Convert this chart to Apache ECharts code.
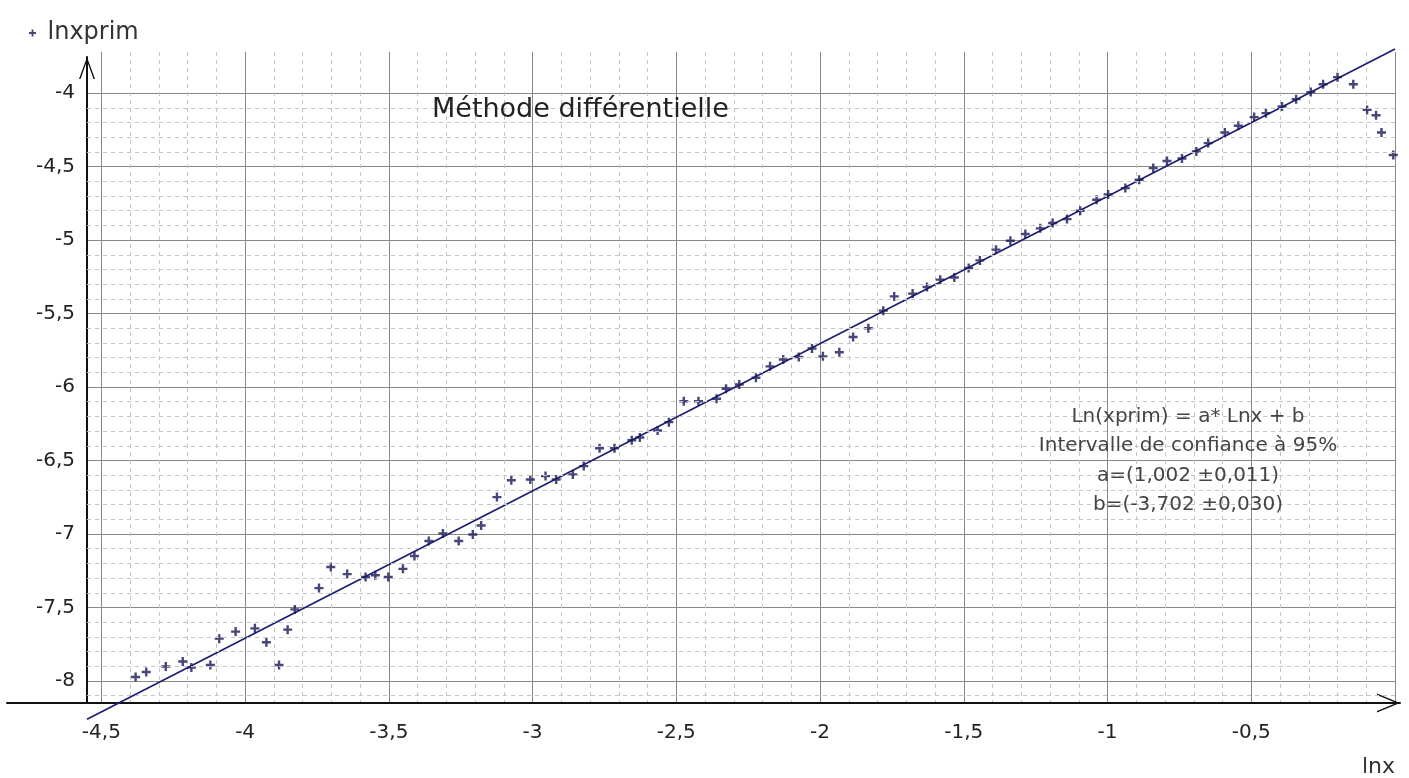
<!DOCTYPE html>
<html>
<head>
<meta charset="utf-8">
<script src="https://cdn.jsdelivr.net/npm/echarts@6/dist/echarts.min.js"></script>
<style>
  html, body { margin: 0; padding: 0; background: #fff; }
  #chart { width: 1409px; height: 778px; }
</style>
</head>
<body>
<div id="chart"></div>
<script>
// ---- data ----
const lnx = [
  -4.381, -4.344, -4.276, -4.217, -4.187, -4.121, -4.090, -4.033, -3.966, -3.926,
  -3.882, -3.852, -3.827, -3.743, -3.702, -3.645, -3.581, -3.547, -3.502, -3.451,
  -3.411, -3.361, -3.312, -3.257, -3.208, -3.179, -3.124, -3.074, -3.008, -2.955,
  -2.918, -2.860, -2.822, -2.767, -2.715, -2.655, -2.627, -2.565, -2.526, -2.474,
  -2.423, -2.360, -2.327, -2.281, -2.223, -2.174, -2.128, -2.074, -2.028, -1.990,
  -1.933, -1.885, -1.832, -1.780, -1.742, -1.678, -1.628, -1.582, -1.533, -1.483,
  -1.444, -1.388, -1.338, -1.286, -1.234, -1.191, -1.141, -1.095, -1.038, -0.998,
  -0.938, -0.890, -0.841, -0.793, -0.741, -0.691, -0.650, -0.592, -0.545, -0.490,
  -0.449, -0.393, -0.344, -0.293, -0.250, -0.200, -0.145, -0.097, -0.066, -0.047, -0.006
];
const lnxprim = [
  -7.973, -7.939, -7.902, -7.868, -7.909, -7.891, -7.712, -7.664, -7.642, -7.737,
  -7.891, -7.651, -7.513, -7.368, -7.225, -7.273, -7.293, -7.281, -7.293, -7.237,
  -7.150, -7.048, -6.996, -7.048, -7.003, -6.942, -6.749, -6.634, -6.629, -6.606,
  -6.629, -6.595, -6.538, -6.416, -6.416, -6.362, -6.343, -6.296, -6.239, -6.097,
  -6.097, -6.080, -6.012, -5.983, -5.937, -5.859, -5.813, -5.795, -5.738, -5.791,
  -5.763, -5.659, -5.600, -5.480, -5.383, -5.364, -5.319, -5.269, -5.254, -5.190,
  -5.138, -5.065, -5.004, -4.959, -4.920, -4.884, -4.857, -4.800, -4.725, -4.689,
  -4.646, -4.589, -4.510, -4.462, -4.445, -4.397, -4.340, -4.268, -4.222, -4.163,
  -4.136, -4.091, -4.041, -3.993, -3.939, -3.891, -3.939, -4.114, -4.150, -4.268, -4.421
];
// regression line end points (Ln(xprim) = a*Lnx + b), read at the plot edges
const fitLnx = [-4.55, 0];
const fitLnxprim = [-8.26, -3.70];
// minor horizontal grid values
const minorY = [
  -8.1, -7.9, -7.8, -7.7, -7.6, -7.4, -7.3, -7.2, -7.1, -6.9, -6.8, -6.7, -6.6,
  -6.4, -6.3, -6.2, -6.1, -5.9, -5.8, -5.7, -5.6, -5.4, -5.3, -5.2, -5.1,
  -4.9, -4.8, -4.7, -4.6, -4.4, -4.3, -4.2, -4.1
];
const xRange = [-4.55, 0];
const yRange = [-8.15, -3.72];
const seriesName = 'lnxprim';
const xName = 'lnx';
const titleText = 'Méthode différentielle';
const eqLines = [
  'Ln(xprim) = a* Lnx + b',
  'Intervalle de confiance à 95%',
  'a=(1,002 ±0,011)',
  'b=(-3,702 ±0,030)'
];

// ---- chart ----
const FONT = 'DejaVu Sans';
const plusPath = 'path://M3.3,0H5.7V3.3H9V5.7H5.7V9H3.3V5.7H0V3.3H3.3Z';
const arrowY = 'path://M0,22L8,0L16,22L14.5,22L8,3.8L1.5,22Z';
const arrowX = 'path://M0,23L9.5,0L19,23L17.5,23L9.5,3.8L1.5,23Z';
const fmt = v => String(v).replace('.', ',');

const chart = echarts.init(document.getElementById('chart'));
chart.setOption({
  animation: false,
  backgroundColor: '#ffffff',
  textStyle: { fontFamily: FONT },
  legend: {
    data: [{ name: seriesName, icon: plusPath }],
    left: 24, top: 16,
    itemWidth: 20, itemHeight: 7,
    textStyle: { fontSize: 24, color: '#333', fontFamily: FONT }
  },
  grid: [
    { left: 87, right: 14, top: 52, bottom: 75 },
    { left: 7, right: 9, top: 52, bottom: 75 },
    { left: 87, right: 14, top: 57, bottom: 75 }
  ],
  xAxis: [
    {
      gridIndex: 0, type: 'value', min: xRange[0], max: xRange[1],
      minInterval: 0.5, maxInterval: 0.5, splitNumber: 9,
      axisLine: { show: false, onZero: false },
      axisTick: { show: false },
      axisLabel: { showMinLabel: false, showMaxLabel: false, formatter: fmt,
                   fontSize: 20, color: '#222', margin: 20, fontFamily: FONT },
      splitLine: { show: true, showMinLine: false, lineStyle: { color: '#888888', width: 1 } },
      minorTick: { show: false, splitNumber: 5 },
      minorSplitLine: { show: true, lineStyle: { color: '#c4c4c4', width: 1, type: [4, 4] } }
    },
    {
      gridIndex: 1, type: 'value', min: 0, max: 1,
      axisLine: { show: true, onZero: false, lineStyle: { color: '#111', width: 2 },
                  symbol: ['none', arrowX], symbolSize: [19, 23], symbolOffset: [0, -11.5] },
      axisTick: { show: false }, axisLabel: { show: false }, splitLine: { show: false }
    },
    {
      gridIndex: 2, type: 'value', min: 0, max: 1, show: false
    }
  ],
  yAxis: [
    {
      gridIndex: 0, type: 'value', min: yRange[0], max: yRange[1],
      minInterval: 0.5, maxInterval: 0.5, splitNumber: 9,
      axisLine: { show: false, onZero: false },
      axisTick: { show: false },
      axisLabel: { showMinLabel: false, showMaxLabel: false, formatter: fmt,
                   fontSize: 20, color: '#222', margin: 12, padding: [0, 0, 10, 0], fontFamily: FONT },
      splitLine: { show: true, showMinLine: false, showMaxLine: false,
                   lineStyle: { color: '#888888', width: 1 } }
    },
    { gridIndex: 1, type: 'value', min: 0, max: 1, show: false },
    {
      gridIndex: 2, type: 'value', min: 0, max: 1,
      axisLine: { show: true, onZero: false, lineStyle: { color: '#111', width: 2 },
                  symbol: ['none', arrowY], symbolSize: [16, 22], symbolOffset: [0, -11] },
      axisTick: { show: false }, axisLabel: { show: false }, splitLine: { show: false }
    }
  ],
  series: [
    {
      name: 'fit', type: 'line', xAxisIndex: 0, yAxisIndex: 0,
      data: fitLnx.map((x, i) => [x, fitLnxprim[i]]),
      symbol: 'none', clip: false, silent: true, z: 3,
      lineStyle: { color: '#1c1c6e', width: 1.6 },
      markLine: {
        silent: true, symbol: ['none', 'none'], label: { show: false },
        animation: false,
        lineStyle: { color: '#c4c4c4', width: 1, type: [4, 4] },
        emphasis: { disabled: true },
        data: minorY.map(v => ({ yAxis: v }))
      }
    },
    {
      name: seriesName, type: 'scatter', xAxisIndex: 0, yAxisIndex: 0,
      data: lnx.map((x, i) => [x, lnxprim[i]]),
      symbol: plusPath, symbolSize: 9, clip: false, z: 4,
      itemStyle: { color: '#181858' }
    }
  ],
  graphic: [
    { type: 'text', x: 432, y: 110, z: 10,
      style: { text: titleText, fontSize: 27, fontFamily: FONT, fill: '#222',
               textAlign: 'left', textVerticalAlign: 'middle' } },
    { type: 'text', x: 1188, y: 402, z: 10,
      style: { text: eqLines.join('\n'), fontSize: 20, fontFamily: FONT, fill: '#444',
               textAlign: 'center', textVerticalAlign: 'top', lineHeight: 29.5 } },
    { type: 'text', x: 1395, y: 767, z: 10,
      style: { text: xName, fontSize: 22, fontFamily: FONT, fill: '#333',
               textAlign: 'right', textVerticalAlign: 'middle' } }
  ]
});
</script>
</body>
</html>
